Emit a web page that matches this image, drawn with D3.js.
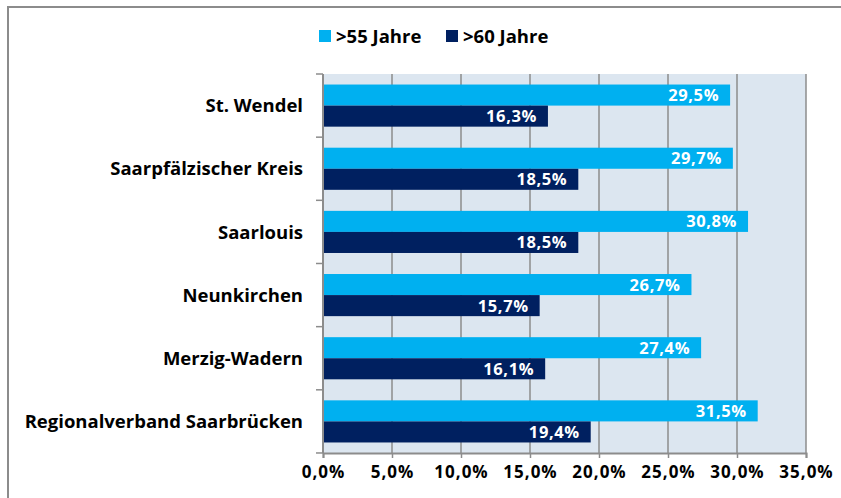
<!DOCTYPE html>
<html>
<head>
<meta charset="utf-8">
<script src="https://cdn.jsdelivr.net/npm/d3@7"></script>
<style>
  body { margin: 0; background: #fff; }
  text { font-family: "Open Sans", Lato, sans-serif; font-weight: bold; }
</style>
</head>
<body>
<div id="chart"></div>
<script>
// data
var categories = ["St. Wendel", "Saarpfälzischer Kreis", "Saarlouis", "Neunkirchen", "Merzig-Wadern", "Regionalverband Saarbrücken"];
var series = [">55 Jahre", ">60 Jahre"];
var values55 = [29.5, 29.7, 30.8, 26.7, 27.4, 31.5];
var values60 = [16.3, 18.5, 18.5, 15.7, 16.1, 19.4];
var xTicks = [0, 5, 10, 15, 20, 25, 30, 35];
var colors = ["#00b0f0", "#002060"];

var width = 841, height = 498;
var plot = {left: 323, right: 806, top: 74, bottom: 453};

var de = d3.formatLocale({decimal: ",", thousands: ".", grouping: [3], currency: ["", " €"]});
var fmt = de.format(".1f");

var svg = d3.select("#chart")
  .append("svg")
    .attr("width", width)
    .attr("height", height);

// outer frame
svg.append("rect")
  .attr("x", 8).attr("y", 7)
  .attr("width", 900).attr("height", 600)
  .attr("fill", "none")
  .attr("stroke", "#8c8c8c")
  .attr("stroke-width", 2);

var x = d3.scaleLinear()
  .domain([0, 35])
  .range([plot.left, plot.right]);

var y = d3.scaleBand()
  .domain(categories)
  .range([plot.top, plot.bottom])
  .paddingInner(0.333)
  .paddingOuter(0.1667);

var ySub = d3.scaleBand()
  .domain(series)
  .range([0, y.bandwidth()]);

// plot background
svg.append("rect")
  .attr("x", x(0)).attr("y", plot.top)
  .attr("width", x(35) - x(0))
  .attr("height", plot.bottom - plot.top)
  .attr("fill", "#dce6f0");

// vertical gridlines
svg.append("g")
  .selectAll("line")
  .data(xTicks.slice(1))
  .join("line")
    .attr("x1", function(d) { return x(d); })
    .attr("x2", function(d) { return x(d); })
    .attr("y1", plot.top)
    .attr("y2", plot.bottom)
    .attr("stroke", "#8c8c8c")
    .attr("stroke-width", 1.5);

// bars
var rows = categories.map(function(c, i) {
  return {cat: c, vals: [{s: series[0], v: values55[i]}, {s: series[1], v: values60[i]}]};
});

var groups = svg.append("g")
  .selectAll("g")
  .data(rows)
  .join("g")
    .attr("transform", function(d) { return "translate(0," + y(d.cat) + ")"; });

groups.selectAll("rect")
  .data(function(d) { return d.vals; })
  .join("rect")
    .attr("x", x(0))
    .attr("y", function(d) { return ySub(d.s); })
    .attr("width", function(d) { return x(d.v) - x(0); })
    .attr("height", ySub.bandwidth())
    .attr("fill", function(d, i) { return colors[i]; });

groups.selectAll("text")
  .data(function(d) { return d.vals; })
  .join("text")
    .attr("x", function(d) { return x(d.v) - 11; })
    .attr("y", function(d) { return ySub(d.s) + ySub.bandwidth() / 2; })
    .attr("dy", "0.36em")
    .attr("text-anchor", "end")
    .style("font-size", "16.5px")
    .style("letter-spacing", "0.6px")
    .attr("fill", "#fff")
    .text(function(d) { return fmt(d.v) + "%"; });

// y axis line and ticks at band boundaries
var step = y.step();
var yAxis = svg.append("g");
yAxis.append("line")
  .attr("x1", x(0)).attr("x2", x(0))
  .attr("y1", plot.top).attr("y2", plot.bottom)
  .attr("stroke", "#8c8c8c").attr("stroke-width", 2);
yAxis.selectAll(".tk")
  .data(d3.range(categories.length + 1))
  .join("line")
    .attr("x1", x(0) - 7).attr("x2", x(0))
    .attr("y1", function(i) { return plot.top + i * step; })
    .attr("y2", function(i) { return plot.top + i * step; })
    .attr("stroke", "#8c8c8c").attr("stroke-width", 1.5);

// category labels
svg.append("g")
  .selectAll("text")
  .data(categories)
  .join("text")
    .attr("x", x(0) - 20)
    .attr("y", function(d) { return y(d) + y.bandwidth() / 2; })
    .attr("dy", "0.36em")
    .attr("text-anchor", "end")
    .style("font-size", "18.5px")
    .attr("fill", "#000")
    .text(function(d) { return d; });

// x axis
var xAxis = svg.append("g")
  .attr("transform", "translate(0," + plot.bottom + ")")
  .call(d3.axisBottom(x)
    .tickValues(xTicks)
    .tickSize(5)
    .tickFormat(function(d) { return fmt(d) + "%"; }));
xAxis.select(".domain").attr("stroke", "#8c8c8c").attr("stroke-width", 2);
xAxis.selectAll(".tick line").attr("stroke", "#8c8c8c").attr("stroke-width", 1.5);
xAxis.selectAll(".tick text")
  .attr("y", 13)
  .attr("fill", "#000")
  .style("font-size", "17px")
  .style("letter-spacing", "1px")
  .style("font-family", "'Open Sans', sans-serif")
  .style("font-weight", "bold");

// legend
var legend = svg.append("g")
  .attr("transform", "translate(319,30)");
var lx = [0, 127];
series.forEach(function(s, i) {
  legend.append("rect")
    .attr("x", lx[i]).attr("y", 0)
    .attr("width", 12).attr("height", 12)
    .attr("fill", colors[i]);
  legend.append("text")
    .attr("x", lx[i] + 17).attr("y", 6)
    .attr("dy", "0.36em")
    .style("font-size", "18.5px")
    .attr("fill", "#000")
    .text(s);
});
</script>
</body>
</html>
